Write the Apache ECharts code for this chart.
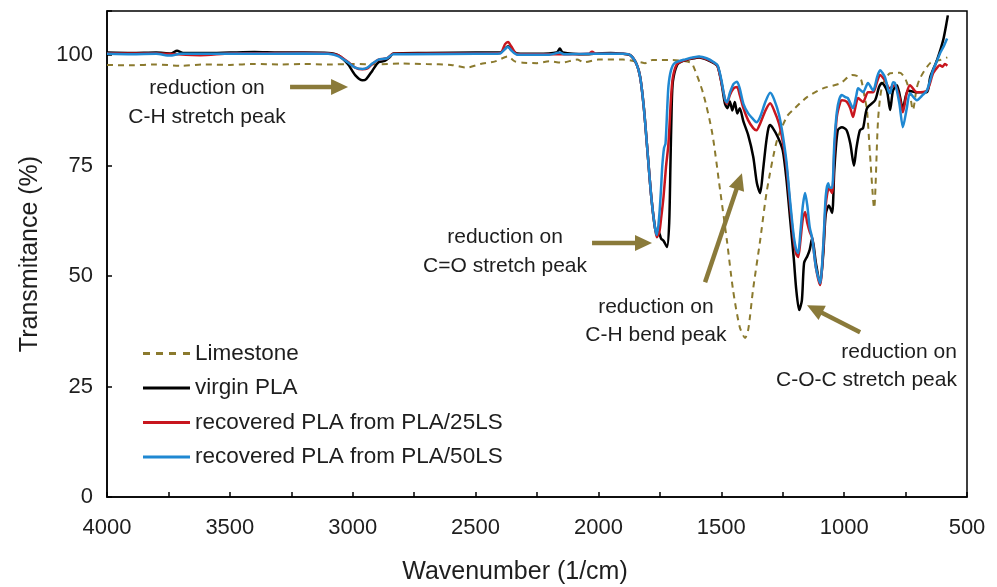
<!DOCTYPE html>
<html>
<head>
<meta charset="utf-8">
<script src="https://cdn.jsdelivr.net/npm/echarts@6/dist/echarts.min.js"></script>
<style>html,body{margin:0;padding:0;background:#fff;}#c{width:997px;height:587px;}</style>
</head>
<body>
<div id="c"></div>
<script>
// ---- Data ----
const seriesNames = ['Limestone', 'virgin PLA', 'recovered PLA from PLA/25LS', 'recovered PLA from PLA/50LS'];
const xTickLabels = [4000, 3500, 3000, 2500, 2000, 1500, 1000, 500];
const yTickLabels = [0, 25, 50, 75, 100];

const wnLimestone = [4000,3900,3800,3700,3600,3500,3400,3300,3200,3100,3000,2900,2800,2700,2600,2535,2480,2420,2368,2340,2307,2250,2200,2150,2087,2060,2000,1900,1830,1810,1780,1700,1627,1615,1574,1537,1505,1477,1452,1425,1403,1390,1371,1342,1314,1273,1232,1208,1151,1086,1017,968,943,930,915,907,895,878,862,846,813,773,750,735,720,705,691,650,610,580];
const tLimestone  = [97.8,97.7,97.9,97.6,97.9,97.8,98.0,97.9,98.0,97.9,98.0,97.9,98.1,98.0,97.8,97.2,98.0,98.6,99.7,98.6,98.3,98.2,98.6,98.3,99.0,98.4,99.0,99.0,98.4,98.2,98.9,98.9,98.4,97.7,91.4,82.4,69.5,58.0,46.8,38.5,36.0,38.0,46.8,58.0,69.5,80.8,86.2,87.6,90.5,92.5,93.6,95.5,95.2,94.3,90.0,87.6,77.8,65.4,85.3,92.8,95.9,96.0,94.5,92.0,87.6,92.5,94.8,98.2,98.9,99.5];

const wnVirgin = [4000,3900,3800,3740,3715,3690,3600,3500,3400,3300,3200,3100,3060,3020,2990,2960,2945,2920,2895,2870,2850,2835,2700,2500,2400,2380,2368,2355,2330,2250,2170,2157,2145,2050,2000,1950,1900,1870,1845,1830,1815,1800,1785,1770,1762,1755,1745,1735,1721,1712,1707,1702,1697,1680,1660,1620,1590,1560,1530,1515,1500,1485,1475,1465,1455,1445,1435,1425,1410,1391,1370,1355,1342,1330,1318,1308,1301,1290,1270,1250,1235,1220,1205,1195,1183,1172,1163,1150,1140,1130,1115,1098,1085,1075,1062,1049,1040,1026,1009,990,975,960,950,936,923,907,874,858,846,826,813,801,785,761,740,704,663,650,622,597,581,578];
const tVirgin  = [100.6,100.5,100.6,100.4,101.0,100.5,100.5,100.6,100.7,100.6,100.6,100.5,100.0,98.0,95.5,94.3,94.6,96.5,98.4,98.7,99.5,100.4,100.5,100.6,100.6,101.5,102.0,101.2,100.4,100.3,100.6,101.5,100.6,100.2,100.4,100.5,100.3,100.0,98.0,95.0,88.0,78.0,68.0,61.0,59.8,60.0,58.5,58.0,56.6,62.0,75.0,88.0,94.0,97.8,98.6,99.2,99.5,99.0,98.2,97.5,94.0,89.0,88.0,89.5,87.5,89.4,86.8,88.0,85.0,82.0,77.0,71.0,68.8,74.0,80.0,83.5,84.2,83.5,81.5,78.5,72.0,63.0,54.0,47.0,42.3,44.5,53.0,54.5,56.0,58.6,53.0,48.2,55.0,64.0,66.0,64.3,74.0,83.0,83.7,83.0,80.0,75.0,79.0,83.0,83.5,88.0,89.8,92.8,93.7,92.0,87.6,92.0,93.2,88.0,92.0,91.6,91.6,95.0,98.9,103.4,108.0,109.0];

const wn25LS = [4000,3800,3620,3500,3200,3100,3060,3020,2990,2960,2940,2920,2895,2860,2835,2500,2400,2380,2368,2355,2330,2200,2040,2026,2010,1900,1870,1845,1830,1815,1800,1785,1770,1762,1752,1745,1735,1725,1715,1705,1697,1680,1640,1590,1560,1530,1515,1500,1485,1477,1465,1450,1436,1425,1410,1391,1370,1357,1342,1320,1301,1285,1265,1250,1235,1220,1205,1195,1187,1178,1168,1159,1150,1140,1130,1115,1098,1085,1075,1062,1049,1040,1030,1015,1009,990,975,964,955,943,923,903,882,866,854,834,815,801,793,775,761,745,732,704,663,638,620,610,600,590,580];
const t25LS  = [100.4,100.4,100.0,100.4,100.5,100.4,100.0,98.5,97.2,96.8,97.0,98.0,99.0,99.3,100.3,100.4,100.5,102.5,103.0,102.0,100.2,100.2,100.3,100.8,100.3,100.3,100.0,98.0,95.0,88.0,78.0,68.0,61.0,58.8,60.0,63.0,68.0,74.7,80.0,90.0,95.0,98.0,99.0,99.6,99.1,98.3,97.5,94.0,90.0,89.0,91.0,92.5,92.8,91.0,88.0,85.3,83.5,83.0,84.5,87.5,89.1,87.5,84.5,80.5,75.0,66.0,58.0,55.0,54.3,58.0,63.0,64.5,62.0,60.0,58.6,52.0,48.0,56.0,66.0,70.0,68.8,78.0,86.0,89.5,89.8,89.5,88.0,86.0,88.0,90.3,89.4,91.6,91.6,94.0,95.5,94.3,92.5,93.0,93.2,90.5,87.1,91.5,93.2,91.6,92.0,95.9,97.3,97.7,97.4,98.0,97.6];

const wn50LS = [4000,3900,3800,3744,3700,3500,3200,3100,3060,3020,2990,2960,2940,2920,2895,2860,2835,2500,2400,2380,2368,2355,2330,2200,2157,2140,2040,1900,1870,1845,1830,1815,1800,1785,1770,1762,1752,1745,1740,1733,1727,1720,1715,1705,1690,1650,1590,1560,1530,1515,1500,1485,1477,1465,1450,1436,1425,1410,1391,1370,1357,1342,1320,1301,1285,1265,1250,1235,1220,1205,1195,1187,1178,1168,1159,1150,1140,1130,1115,1098,1085,1075,1065,1058,1049,1040,1030,1020,1009,995,985,964,950,943,923,903,882,866,854,834,820,813,801,793,775,761,745,732,704,680,663,638,620,610,595,581];
const t50LS  = [100.3,100.2,100.3,99.9,100.3,100.3,100.4,100.3,99.8,98.4,97.2,96.9,97.2,98.1,99.0,99.3,100.2,100.3,100.4,101.4,101.9,101.1,100.1,100.1,100.6,100.2,100.3,100.3,100.0,98.0,95.0,88.0,78.0,68.0,61.0,59.3,64.0,70.0,75.0,79.0,80.0,88.0,93.0,96.5,98.2,99.0,99.7,99.3,98.4,97.7,94.5,90.0,89.3,91.5,93.5,94.0,92.5,89.0,86.9,85.5,84.8,86.0,89.5,91.5,90.0,86.5,82.0,76.0,67.0,59.0,56.0,55.2,60.0,66.0,68.8,66.0,61.0,58.6,52.0,48.4,57.0,68.0,71.0,70.0,70.0,80.0,87.0,90.0,91.0,90.5,90.3,88.0,91.0,92.5,91.6,93.7,92.0,95.0,96.6,95.0,92.0,91.4,93.9,93.7,89.0,83.7,88.0,91.4,89.8,91.0,92.0,96.6,99.0,100.4,102.0,103.8];

// Annotations: text lines and arrows in data coordinates [wavenumber, transmittance]
const annoTexts = [
  { lines: ['reduction on', 'C-H stretch peak'], at: [[3593, 92.5], [3593, 86.0]], align: 'center' },
  { lines: ['reduction on', 'C=O stretch peak'], at: [[2380, 58.8], [2380, 52.3]], align: 'center' },
  { lines: ['reduction on', 'C-H bend peak'], at: [[1766, 43.0], [1766, 36.7]], align: 'center' },
  { lines: ['reduction on', 'C-O-C stretch peak'], at: [[541, 32.8], [541, 26.5]], align: 'right' }
];
const annoArrows = [
  [[3255, 92.8], [3019, 92.8]],
  [[2026, 57.5], [1782, 57.5]],
  [[1566, 48.6], [1416, 73.3]],
  [[935, 37.3], [1151, 43.4]]
];

// ---- Chart ----
const FONT = '"Liberation Sans", Arial, Helvetica, sans-serif';
const TXT = '#1e1e1e';
const ARROW = '#8a7a3a';
const colors = ['#8b7a2e', '#000000', '#c8161e', '#1f88d2'];
const zip = (a, b) => a.map((v, i) => [v, b[i]]);
const dataSets = [zip(wnLimestone, tLimestone), zip(wnVirgin, tVirgin), zip(wn25LS, t25LS), zip(wn50LS, t50LS)];
const DASH_ICON = 'path://M0,0h7v3h-7z M13,0h7v3h-7z M26,0h7v3h-7z M40,0h7v3h-7z';

const chart = echarts.init(document.getElementById('c'), null, { renderer: 'canvas' });

const series = seriesNames.map((name, i) => ({
  name: name,
  type: 'line',
  data: dataSets[i],
  symbol: 'none',
  smooth: 0.25,
  z: 2 + i,
  lineStyle: {
    color: colors[i],
    width: i === 0 ? 2 : 2.5,
    type: i === 0 ? [6, 5] : 'solid'
  },
  itemStyle: { color: colors[i] }
}));

chart.setOption({
  animation: false,
  backgroundColor: '#ffffff',
  textStyle: { fontFamily: FONT },
  grid: { left: 107, right: 30, top: 11, bottom: 90, containLabel: false, outerBoundsMode: 'none', show: true, borderColor: '#000', borderWidth: 1.5, backgroundColor: 'transparent' },
  legend: {
    orient: 'vertical',
    left: 143,
    top: 342,
    padding: 0,
    itemWidth: 47,
    itemHeight: 3,
    itemGap: 11.5,
    textStyle: { fontFamily: FONT, fontSize: 22.5, lineHeight: 22, color: TXT },
    data: seriesNames.map((n, i) => ({ name: n, icon: i === 0 ? DASH_ICON : 'rect' }))
  },
  xAxis: {
    type: 'value',
    min: 500,
    max: 4000,
    interval: 250,
    inverse: true,
    name: 'Wavenumber (1/cm)',
    nameLocation: 'middle',
    nameGap: 63,
    nameTextStyle: { fontFamily: FONT, fontSize: 25, color: TXT, padding: [0, 44, 0, 0] },
    axisLine: { show: true, lineStyle: { color: '#000', width: 1.5 } },
    axisTick: { show: true, inside: true, length: 5, lineStyle: { color: '#000', width: 1.5 } },
    axisLabel: {
      margin: 20,
      fontFamily: FONT, fontSize: 22, color: TXT,
      formatter: v => (xTickLabels.indexOf(v) >= 0 ? String(v) : '')
    },
    splitLine: { show: false }
  },
  yAxis: {
    type: 'value',
    min: 0,
    max: 110,
    interval: 25,
    name: 'Transmitance (%)',
    nameLocation: 'middle',
    nameGap: 64,
    nameRotate: 90,
    nameTextStyle: { fontFamily: FONT, fontSize: 25, color: TXT },
    axisLine: { show: true, lineStyle: { color: '#000', width: 1.5 } },
    axisTick: { show: true, inside: true, length: 5, lineStyle: { color: '#000', width: 1.5 } },
    axisLabel: {
      margin: 14,
      fontFamily: FONT, fontSize: 22, color: TXT,
      formatter: v => (yTickLabels.indexOf(v) >= 0 ? String(v) : '')
    },
    splitLine: { show: false }
  },
  series: series
});

// Annotations as graphic elements placed via the chart's own coordinate conversion
function buildGraphics() {
  const els = [];
  annoTexts.forEach(g => {
    g.lines.forEach((line, k) => {
      const p = chart.convertToPixel({ gridIndex: 0 }, g.at[k]);
      els.push({
        type: 'text', x: p[0], y: p[1], z: 20,
        style: { text: line, fill: TXT, font: '21px ' + FONT, align: g.align, verticalAlign: 'middle' }
      });
    });
  });
  annoArrows.forEach(a => {
    const p0 = chart.convertToPixel({ gridIndex: 0 }, a[0]);
    const p1 = chart.convertToPixel({ gridIndex: 0 }, a[1]);
    const dx = p1[0] - p0[0], dy = p1[1] - p0[1];
    const L = Math.sqrt(dx * dx + dy * dy);
    const ux = dx / L, uy = dy / L;
    const headLen = 17, headHalf = 8;
    const bx = p1[0] - ux * headLen, by = p1[1] - uy * headLen;
    els.push({
      type: 'line', z: 20,
      shape: { x1: p0[0], y1: p0[1], x2: bx + ux * 2, y2: by + uy * 2 },
      style: { stroke: ARROW, lineWidth: 4.5 }
    });
    els.push({
      type: 'polygon', z: 20,
      shape: { points: [[p1[0], p1[1]], [bx - uy * headHalf, by + ux * headHalf], [bx + uy * headHalf, by - ux * headHalf]] },
      style: { fill: ARROW }
    });
  });
  return els;
}
chart.setOption({ graphic: buildGraphics() });
</script>
</body>
</html>
